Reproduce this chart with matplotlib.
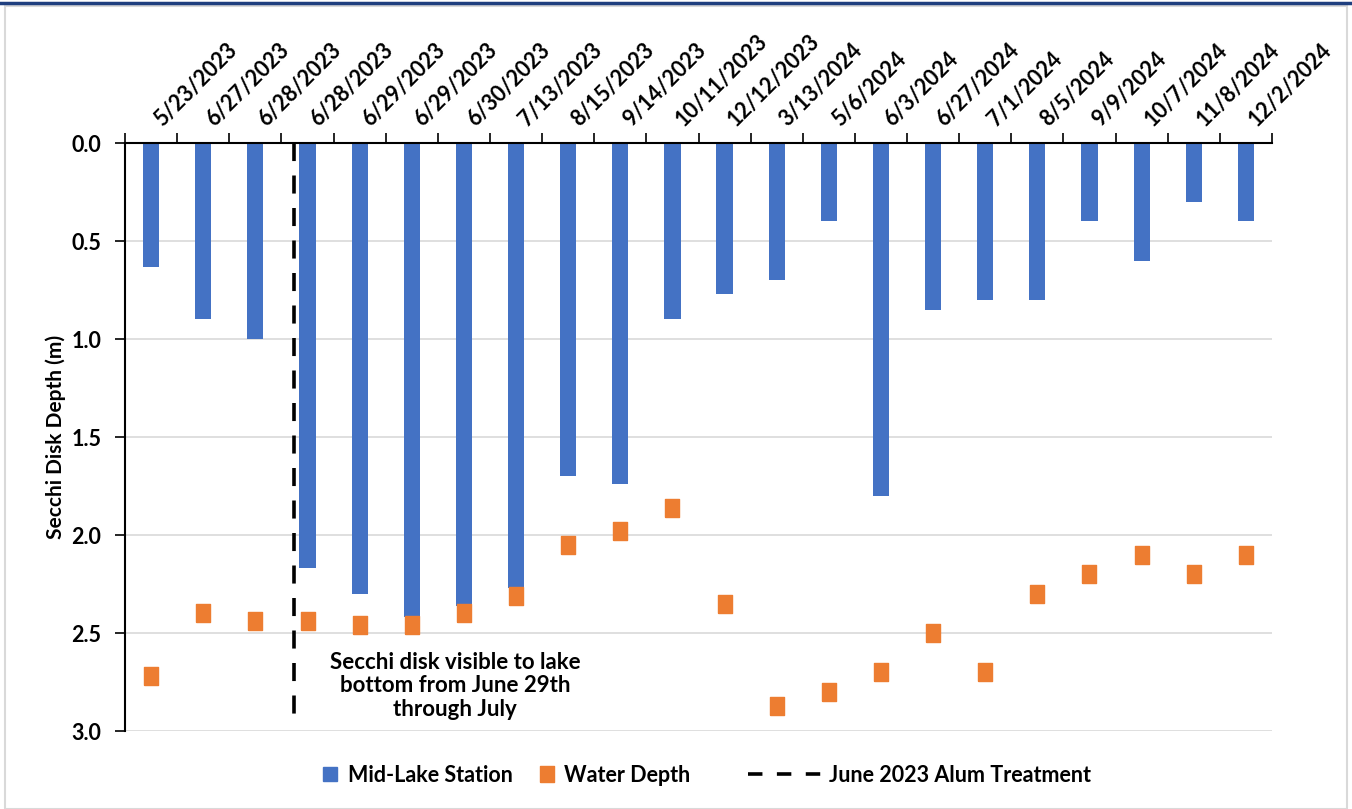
import matplotlib
matplotlib.use("Agg")
import matplotlib.pyplot as plt
import matplotlib.transforms as mtransforms
from matplotlib.lines import Line2D
from matplotlib.patches import Rectangle
import numpy as np

plt.rcParams['font.family'] = ['Lato', 'DejaVu Sans']

dates = ['5/23/2023', '6/27/2023', '6/28/2023', '6/28/2023', '6/29/2023', '6/29/2023',
         '6/30/2023', '7/13/2023', '8/15/2023', '9/14/2023', '10/11/2023', '12/12/2023',
         '3/13/2024', '5/6/2024', '6/3/2024', '6/27/2024', '7/1/2024', '8/5/2024',
         '9/9/2024', '10/7/2024', '11/8/2024', '12/2/2024']
secchi = [0.63, 0.90, 1.00, 2.17, 2.30, 2.42, 2.36, 2.27, 1.70, 1.74, 0.90, 0.77,
          0.70, 0.40, 1.80, 0.85, 0.80, 0.80, 0.40, 0.60, 0.30, 0.40]
water_depth = [2.72, 2.40, 2.44, 2.44, 2.46, 2.46, 2.40, 2.31, 2.05, 1.98, 1.86, 2.35,
               2.87, 2.80, 2.70, 2.50, 2.70, 2.30, 2.20, 2.10, 2.20, 2.10]
treatment_x = 2.75
note = "Secchi disk visible to lake\nbottom from June 29th\nthrough July"

blue = '#4472C4'
orange = '#ED7D31'
# slightly taller-than-wide square marker, like the Excel one
rect_marker = [(-0.42, -0.5), (0.42, -0.5), (0.42, 0.5), (-0.42, 0.5), (-0.42, -0.5)]

fig = plt.figure(figsize=(13.52, 8.09), dpi=100)
# outer frame like the original screenshot
fig.patches.append(Rectangle((0.004, 0.0), 0.992, 0.993, transform=fig.transFigure,
                             fill=False, edgecolor='#D9D9D9', linewidth=1.5))
fig.add_artist(Line2D([0, 1], [0.9965, 0.9965], transform=fig.transFigure,
                      color='#1F3F7F', linewidth=2.5))

ax = fig.add_axes([0.0925, 0.0964, 0.8483, 0.7268])
x = np.arange(len(dates))

ax.bar(x, secchi, width=0.31, color=blue, zorder=2)
ax.plot(x, water_depth, linestyle='none', marker=rect_marker, markersize=12.5,
        color=orange, zorder=3)
ax.plot([treatment_x, treatment_x], [0, 2.95], color='black', linewidth=2.6,
        dashes=(5, 4), zorder=4)
ax.text(5.83, 2.77, note, ha='center', va='center', fontsize=16, fontweight='bold',
        linespacing=1.15)

ax.set_xlim(-0.5, len(dates) - 0.5)
ax.set_ylim(3.0, 0.0)
yt = np.arange(0, 3.01, 0.5)
ax.set_yticks(yt)
ax.set_yticklabels([f'{v:.1f}' for v in yt], fontsize=15.5, fontweight='bold')
ax.yaxis.grid(True, color='#D9D9D9', linewidth=1.2, zorder=0)
ax.set_axisbelow(True)

ax.xaxis.tick_top()
ax.set_xticks(x)
ax.set_xticklabels(dates, rotation=45, ha='left', rotation_mode='anchor',
                   fontsize=15.5, fontweight='bold')
ax.set_xticks(np.arange(-0.5, len(dates), 1), minor=True)
ax.tick_params(axis='x', which='major', length=0, pad=9)
ax.tick_params(axis='x', which='minor', length=7, width=1.2, top=True, bottom=False)
ax.tick_params(axis='y', length=7, width=1.2, pad=10)
# nudge the rotated date labels right so they start at the bar centre
shift = mtransforms.ScaledTranslation(10 / 72, 0, fig.dpi_scale_trans)
for lbl in ax.get_xticklabels():
    lbl.set_transform(lbl.get_transform() + shift)

for side in ['right', 'bottom']:
    ax.spines[side].set_visible(False)
ax.spines['top'].set_linewidth(1.5)
ax.spines['left'].set_linewidth(1.5)

ax.set_ylabel('Secchi Disk Depth (m)', fontsize=15, fontweight='bold', labelpad=4)

# legend entries placed one by one so each handle can have its own length
entries = [
    (Line2D([], [], linestyle='none', marker='s', markersize=10.5, color=blue),
     'Mid-Lake Station', 0.238, 0.8),
    (Line2D([], [], linestyle='none', marker=rect_marker, markersize=12, color=orange),
     'Water Depth', 0.398, 0.8),
    (Line2D([], [], color='black', linewidth=2.6, dashes=(4, 4)),
     'June 2023 Alum Treatment', 0.553, 3.4),
]
for handle, label, xpos, hlen in entries:
    leg = fig.legend([handle], [label], loc='center left', bbox_to_anchor=(xpos, 0.042),
                     frameon=False, fontsize=15.5, handlelength=hlen, handletextpad=0.4,
                     borderpad=0, borderaxespad=0)
    for t in leg.get_texts():
        t.set_fontweight('bold')

fig.savefig('out.png', dpi=100)
